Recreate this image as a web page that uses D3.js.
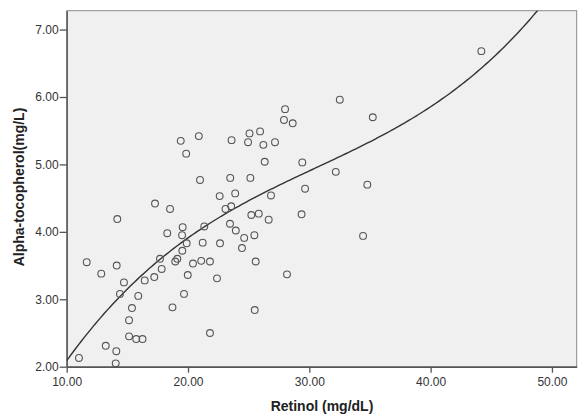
<!DOCTYPE html>
<html>
<head>
<meta charset="utf-8">
<script src="https://cdn.jsdelivr.net/npm/d3@7"></script>
<style>
  body { margin: 0; background: #fff; }
  text { font-family: "Liberation Sans", Arial, sans-serif; }
</style>
</head>
<body>
<div id="chart"></div>
<script>
// retinol (mg/dL) vs alpha-tocopherol (mg/L)
const retinol = [
  11.01, 13.22, 14.09, 14.04, 15.14, 15.73, 16.25, 15.14, 15.38, 18.72,
  21.81, 19.67, 15.90, 14.39, 14.72, 12.85, 11.65, 14.12, 16.43, 17.22,
  17.83, 17.69, 18.95, 19.12, 19.53, 19.89, 19.51, 19.56, 18.29, 21.34,
  21.21, 22.64, 20.41, 21.09, 21.81, 19.98, 22.39, 23.46, 23.94, 24.63,
  24.45, 25.47, 25.58, 25.50, 34.43, 28.16, 26.65, 14.17, 17.28, 18.52,
  25.22, 25.83, 29.36, 23.09, 23.56, 22.61, 23.89, 26.84, 29.65, 34.78,
  32.18, 29.42, 26.32, 20.99, 23.48, 25.14, 19.85, 19.40, 20.89, 23.59,
  24.95, 25.07, 25.94, 26.21, 27.17, 27.91, 28.00, 28.63, 32.51, 35.23,
  44.18
];
const tocopherol = [
  2.13, 2.31, 2.23, 2.05, 2.45, 2.41, 2.41, 2.69, 2.87, 2.88,
  2.50, 3.08, 3.05, 3.08, 3.25, 3.38, 3.55, 3.50, 3.28, 3.33,
  3.45, 3.60, 3.56, 3.60, 3.72, 3.83, 3.95, 4.07, 3.98, 4.08,
  3.84, 3.83, 3.53, 3.57, 3.56, 3.36, 3.31, 4.12, 4.02, 3.91,
  3.76, 3.95, 3.56, 2.84, 3.94, 3.37, 4.18, 4.19, 4.42, 4.34,
  4.25, 4.27, 4.26, 4.34, 4.38, 4.53, 4.57, 4.54, 4.64, 4.70,
  4.89, 5.03, 5.04, 4.77, 4.80, 4.80, 5.16, 5.35, 5.42, 5.36,
  5.33, 5.46, 5.49, 5.29, 5.33, 5.66, 5.82, 5.61, 5.96, 5.70,
  6.68
];

// cubic fit line: a + b*x + c*x^2 + d*x^3
const fitCoef = [-1.340095, 0.449625, -0.0119677, 0.00013061];

const xTicks = [10, 20, 30, 40, 50];
const yTicks = [2, 3, 4, 5, 6, 7];

const width = 579;
const height = 419;
const plotLeft = 66.7, plotRight = 576.7, plotTop = 10.7, plotBottom = 366.7;

const x = d3.scaleLinear().domain([10, 52.04]).range([plotLeft, plotRight]);
const y = d3.scaleLinear().domain([2, 7.28]).range([plotBottom, plotTop]);

const svg = d3.select("#chart").append("svg")
  .attr("width", width)
  .attr("height", height);

svg.append("defs").append("clipPath").attr("id", "plotClip")
  .append("rect")
  .attr("x", plotLeft).attr("y", plotTop)
  .attr("width", plotRight - plotLeft).attr("height", plotBottom - plotTop);

// plot background + frame
svg.append("rect")
  .attr("x", plotLeft).attr("y", plotTop)
  .attr("width", plotRight - plotLeft).attr("height", plotBottom - plotTop)
  .attr("fill", "#f0f0f0")
  .attr("stroke", "#8a8a8a")
  .attr("stroke-width", 1);

// axes
const xAxis = d3.axisBottom(x).tickValues(xTicks).tickSizeInner(6).tickSizeOuter(0)
  .tickFormat(d3.format(".2f"));
const yAxis = d3.axisLeft(y).tickValues(yTicks).tickSizeInner(7).tickSizeOuter(0)
  .tickFormat(d3.format(".2f"));

const gx = svg.append("g").attr("transform", `translate(0,${plotBottom})`).call(xAxis);
const gy = svg.append("g").attr("transform", `translate(${plotLeft},0)`).call(yAxis);

[gx, gy].forEach(g => {
  g.select(".domain").attr("stroke", "#555").attr("stroke-width", 1.4);
  g.selectAll(".tick line").attr("stroke", "#555").attr("stroke-width", 1.3);
  g.selectAll(".tick text")
    .attr("fill", "#333")
    .style("font-size", "12px")
    .style("font-family", "'Liberation Sans', Arial, sans-serif");
});
gx.selectAll(".tick text").attr("dy", "0.95em").attr("y", 8);
gy.selectAll(".tick text").attr("x", -8);

// fit curve
const poly = v => fitCoef[0] + fitCoef[1] * v + fitCoef[2] * v * v + fitCoef[3] * v * v * v;
const curveXs = d3.range(10, 52.05, 0.2);
svg.append("path")
  .datum(curveXs)
  .attr("clip-path", "url(#plotClip)")
  .attr("fill", "none")
  .attr("stroke", "#333")
  .attr("stroke-width", 1.4)
  .attr("d", d3.line().x(d => x(d)).y(d => y(poly(d))));

// points
svg.append("g")
  .selectAll("circle")
  .data(retinol.map((r, i) => ({ r, t: tocopherol[i] })))
  .join("circle")
  .attr("cx", d => x(d.r))
  .attr("cy", d => y(d.t))
  .attr("r", 3.4)
  .attr("fill", "none")
  .attr("stroke", "#555")
  .attr("stroke-width", 1.1);

// axis titles
svg.append("text")
  .attr("x", 322)
  .attr("y", 411)
  .attr("text-anchor", "middle")
  .attr("font-weight", "bold")
  .attr("font-size", 14)
  .attr("fill", "#222")
  .text("Retinol (mg/dL)");

svg.append("text")
  .attr("transform", `translate(24,187) rotate(-90)`)
  .attr("text-anchor", "middle")
  .attr("font-weight", "bold")
  .attr("font-size", 14)
  .attr("fill", "#222")
  .text("Alpha-tocopherol(mg/L)");
</script>
</body>
</html>
